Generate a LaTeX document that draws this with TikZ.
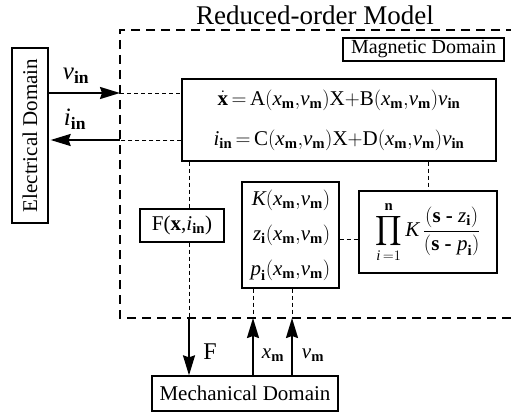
\documentclass[tikz,border=0pt]{standalone}
\usepackage{amsmath}
\usepackage{fontspec}
\setmainfont{Liberation Serif}
\usetikzlibrary{arrows.meta}
\usetikzlibrary{positioning}

\newcommand{\xmvm}{(\textit{x}_{\textbf{m}}{,}\textit{v}_{\textbf{m}})}
\newcommand{\fsz}[1]{\fontsize{#1}{#1}\selectfont}

\begin{document}
\begin{tikzpicture}[x=1pt,y=-1pt,>={Stealth[length=20pt,width=12pt,inset=2pt]},
  box/.style={draw,line width=1.3pt,inner sep=1pt},
  conn/.style={line width=0.9pt,dash pattern=on 4pt off 3pt},
  arr/.style={->,line width=1.8pt},
  font=\fsz{21}]
\useasboundingbox (0,0) rectangle (511,414);
% reduced-order model frame
\draw[line width=1.1pt,dash pattern=on 9pt off 6pt] (515,30) -- (120,30) -- (120,318) -- (515,318);
\node[font=\fsz{27}] (title) at (315,15) {Reduced-order Model};
\node[box,inner sep=0pt,minimum width=161,minimum height=23,font=\fsz{20}] (mag) at (423.5,49.5) {Magnetic Domain};
% domains
\node[box,rotate=90,minimum width=175,minimum height=36,font=\fsz{21}] (elec) at (30,135.5) {Electrical Domain};
\node[box,minimum width=186,minimum height=35,font=\fsz{21}] (mech) at (245,393.5) {Mechanical Domain};
% model blocks
\node[box,minimum width=314,minimum height=82,align=center,font=\fontsize{21}{40}\selectfont] (eqs) at (339,120)
  {$\dot{\textbf{x}}\,{=}\,\text{A}\xmvm\text{X}{+}\text{B}\xmvm\textit{v}_{\textbf{in}}$\\
   $\textit{i}_{\textbf{in}}\,{=}\,\text{C}\xmvm\text{X}{+}\text{D}\xmvm\textit{v}_{\textbf{in}}$};
\node[box,minimum width=84,minimum height=33,font=\fsz{21}] (fbox) at (182,225.5) {F(\textbf{x},$\textit{i}_{\textbf{in}}$)};
\node[box,minimum width=97,minimum height=106,align=right,font=\fontsize{21}{35}\selectfont] (kbox) at (290.5,235)
  {$\textit{K}\xmvm$\\ $\textit{z}_{\textbf{i}}\xmvm$\\ $\textit{p}_{\textbf{i}}\xmvm$};
\node[box,minimum width=138,minimum height=82] (prod) at (428,232)
  {$\displaystyle\prod_{\textit{i}\,=1}^{\textbf{n}}\textit{K}\,\frac{(\textbf{s - }\textit{z}_{\textbf{i}})}{(\textbf{s - }\textit{p}_{\textbf{i}})}$};
% electrical ports
\coordinate (vin) at (120,93);
\coordinate (iin) at (120,140);
\draw[arr] (vin -| elec.south) -- (vin);
\draw[conn] (vin) -- (vin -| eqs.west);
\draw[arr] (iin) -- ([xshift=2pt]iin -| elec.south);
\draw[conn] (iin -| eqs.west) -- (iin);
\node[font=\fsz{25}] (vinlab) at (76,76) {$\textit{v}_{\textbf{in}}$};
\node[font=\fsz{25}] (iinlab) at (75,119) {$\textit{i}_{\textbf{in}}$};
% mechanical ports
\coordinate (fx) at (189,318);
\coordinate (xx) at (253,318);
\coordinate (vx) at (292,318);
\draw[conn] (eqs.south -| fx) -- (fbox.north -| fx);
\draw[conn] (fbox.south -| fx) -- (fx);
\draw[arr] (fx) -- (mech.north -| fx);
\draw[conn] (kbox.south -| xx) -- (xx);
\draw[conn] (kbox.south -| vx) -- (vx);
\draw[arr] (mech.north -| xx) -- (xx);
\draw[arr] (mech.north -| vx) -- (vx);
\node[font=\fsz{24}] (flab) at (210,352) {F};
\node[font=\fsz{21}] (xmlab) at (273,355) {$\textit{x}_{\textbf{m}}$};
\node[font=\fsz{21}] (vmlab) at (313,355) {$\textit{v}_{\textbf{m}}$};
% links inside the model
\coordinate (kp) at (349,239);
\draw[conn] (kp -| kbox.east) -- (kp -| prod.west);
\draw[conn] (eqs.south -| prod.north) -- (prod.north);
\end{tikzpicture}
\end{document}
